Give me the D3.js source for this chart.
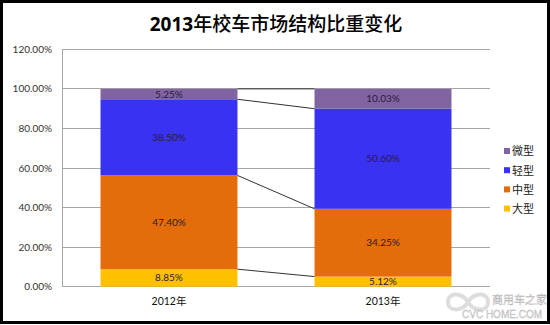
<!DOCTYPE html>
<html><head><meta charset="utf-8">
<script src="https://cdn.jsdelivr.net/npm/d3@7"></script>
<style>body{margin:0;background:#fff;}svg{display:block;}</style>
</head><body>
<script>
const categories = ["2012年", "2013年"];
const seriesNames = ["大型", "中型", "轻型", "微型"];
const large = [8.85, 5.12];
const medium = [47.40, 34.25];
const light = [38.50, 50.60];
const mini = [5.25, 10.03];
const yTicks = [0, 20, 40, 60, 80, 100, 120];
const colors = ["#ffc000", "#e46c0a", "#3a32f2", "#8064a2"];
const titleYear = "2013";
const titleRest = "年校车市场结构比重变化";

const W = 550, H = 325;
const svg = d3.select("body").append("svg").attr("width", W).attr("height", H);
svg.append("rect").attr("x",0).attr("y",0).attr("width",W).attr("height",H).attr("fill","#fff");

const m = {left: 62, right: 490, top: 49.3, bottom: 286.7};
const x = d3.scaleBand().domain(categories).range([m.left, m.right]).paddingInner(0.36).paddingOuter(0.18);
const y = d3.scaleLinear().domain([0, 120]).range([m.bottom, m.top]);

const rows = categories.map((c, i) => ({cat: c, "大型": large[i], "中型": medium[i], "轻型": light[i], "微型": mini[i]}));
const stack = d3.stack().keys(seriesNames)(rows);

// gridlines
svg.append("g").selectAll("line").data(yTicks).join("line")
  .attr("x1", m.left).attr("x2", m.right)
  .attr("y1", d => y(d)).attr("y2", d => y(d))
  .attr("stroke", "#a6a6a6").attr("stroke-width", 1).attr("shape-rendering","crispEdges");
// left axis
svg.append("line").attr("x1", m.left).attr("x2", m.left).attr("y1", m.top).attr("y2", m.bottom)
  .attr("stroke", "#a6a6a6").attr("shape-rendering","crispEdges");

// y labels
svg.append("g").selectAll("text").data(yTicks).join("text")
  .attr("x", 52).attr("y", d => y(d)).attr("dy", "0.35em")
  .attr("text-anchor", "end").attr("font-family", "Lato, 'Noto Sans CJK SC', sans-serif")
  .attr("font-size", 10).attr("fill", "#333")
  .text(d => d.toFixed(2) + "%");

// bars
const gs = svg.append("g").selectAll("g").data(stack).join("g").attr("fill", (d, i) => colors[i]);
gs.selectAll("rect").data(d => d.map(p => Object.assign({}, p, {key: d.key}))).join("rect")
  .attr("x", d => x(d.data.cat)).attr("width", x.bandwidth())
  .attr("y", d => y(d[1])).attr("height", d => y(d[0]) - y(d[1]));

// series lines
const x1 = x(categories[0]) + x.bandwidth(), x2 = x(categories[1]);
svg.append("g").selectAll("line").data(stack).join("line")
  .attr("x1", x1).attr("x2", x2)
  .attr("y1", d => y(d[0][1])).attr("y2", d => y(d[1][1]))
  .attr("stroke", "#333").attr("stroke-width", 1);

// value labels
stack.forEach(s => {
  svg.append("g").selectAll("text").data(s).join("text")
    .attr("x", d => x(d.data.cat) + x.bandwidth() / 2)
    .attr("y", d => (y(d[0]) + y(d[1])) / 2).attr("dy", "0.35em")
    .attr("text-anchor", "middle").attr("font-family", "Lato, 'Noto Sans CJK SC', sans-serif")
    .attr("font-size", 10).attr("fill", "#2a1a3a")
    .text(d => (d[1] - d[0]).toFixed(2) + "%");
});

// x labels
svg.append("g").selectAll("text").data(categories).join("text")
  .attr("x", d => x(d) + x.bandwidth() / 2).attr("y", 305)
  .attr("text-anchor", "middle").attr("font-family", "Lato, 'Noto Sans CJK SC', sans-serif")
  .attr("font-size", 10.5).attr("fill", "#111")
  .text(d => d);

// legend
const legendItems = seriesNames.map((n, i) => ({n, c: colors[i]})).reverse();
const lg = svg.append("g").selectAll("g").data(legendItems).join("g")
  .attr("transform", (d, i) => `translate(504, ${151.5 + i * 19.2})`);
lg.append("rect").attr("x", 0).attr("y", -3.5).attr("width", 6).attr("height", 6).attr("fill", d => d.c);
lg.append("text").attr("x", 8).attr("y", 0).attr("dy", "0.35em")
  .attr("font-family", "'Noto Sans CJK SC', sans-serif").attr("font-size", 11).attr("fill", "#222")
  .text(d => d.n);

// title
const t = svg.append("text").attr("x", 276).attr("y", 31).attr("text-anchor", "middle")
  .attr("font-family", "'Noto Sans CJK SC', sans-serif")
  .attr("font-size", 19).attr("fill", "#000");
t.append("tspan").attr("font-family", "'Open Sans', 'Noto Sans CJK SC', sans-serif").attr("font-weight", "bold").text(titleYear);
t.append("tspan").attr("font-weight", 500).text(titleRest);

// watermark
const wm = svg.append("g").attr("opacity", 0.85);
wm.append("path").attr("d", "M448,302 C448,292 462,292 468,302 C474,312 488,312 488,302 C488,292 474,292 468,302 C462,312 448,312 448,302 Z")
  .attr("fill", "none").attr("stroke", "#d8d8d8").attr("stroke-width", 4);
wm.append("text").attr("x", 492).attr("y", 304).attr("font-family", "'Noto Sans CJK SC', sans-serif")
  .attr("font-size", 11).attr("fill", "#e0e0e0").attr("stroke","#999").attr("stroke-width",0.3).text("商用车之家");
wm.append("text").attr("x", 462).attr("y", 318).attr("font-family", "'Liberation Sans', sans-serif")
  .attr("font-size", 10).attr("fill", "#e0e0e0").attr("stroke","#999").attr("stroke-width",0.3).text("CVC HOME.COM");

// border
svg.append("rect").attr("x", 1.5).attr("y", 1.5).attr("width", W - 3).attr("height", H - 4)
  .attr("fill", "none").attr("stroke", "#000").attr("stroke-width", 3);
</script>
</body></html>
